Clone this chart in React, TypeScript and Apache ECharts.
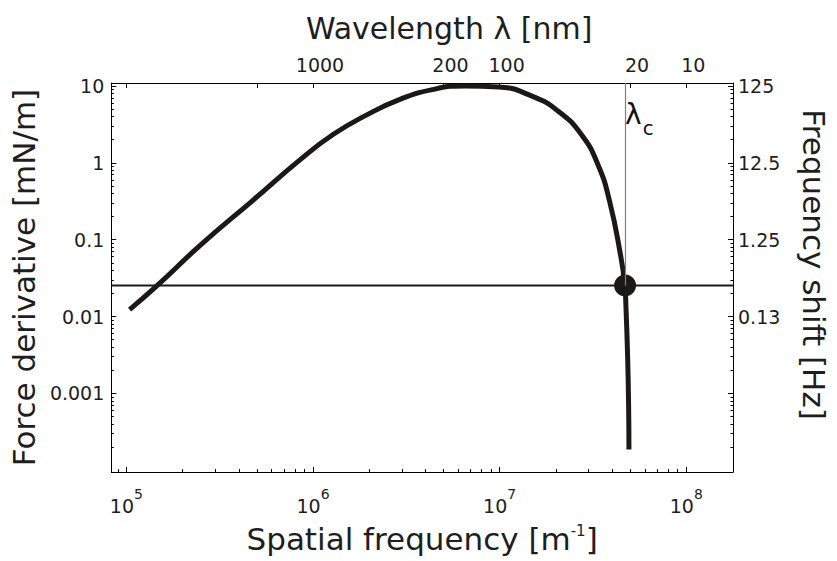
import React, { useEffect, useRef } from "react";
import * as echarts from "echarts";

// Spatial frequency k [1/m] and force derivative [mN/m]
const kValues = [
  1.04e5, 1.45e5, 2.51e5, 4.8e5, 8.54e5, 1.28e6, 1.93e6, 2.9e6, 4.36e6, 6.57e6,
  9.88e6, 1.49e7, 2.06e7, 2.74e7, 3.36e7, 3.88e7, 4.46e7, 4.68e7, 4.75e7, 4.85e7, 4.91e7, 4.93e7,
];
const forceValues = [
  0.0123, 0.0248, 0.0861, 0.33, 1.1, 2.33, 4.16, 6.64, 8.95, 10.0,
  9.7, 7.35, 4.69, 2.33, 0.951, 0.318, 0.0601, 0.0261, 0.0136, 0.00305, 0.000684, 0.000187,
];
const thresholdForce = 0.0253;
const criticalK = 4.7e7;
const lambdaLabelForce = 3.7;
const freqFactor = 12.5;

const xMajorTicks = [1e5, 1e6, 1e7, 1e8];
const leftTickValues = [0.001, 0.01, 0.1, 1, 10];
const leftTickLabels = ["0.001", "0.01", "0.1", "1", "10"];
const rightTickValues = [0.0125, 0.125, 1.25, 12.5, 125];
const rightTickLabels = ["", "0.13", "1.25", "12.5", "125"];
const topTickValues = [10000, 2000, 1000, 200, 100, 20, 10];
const topLabelValues = [1000, 200, 100, 20, 10];

const X_MIN = 8.3e4;
const X_MAX = 1.78e8;
const Y_MIN = 9.5e-5;
const Y_MAX = 10.9;

const FONT = "DejaVu Sans";
const TEXT = "#1e1e1e";
const INK = "#1c1815";

function minorTicks(min: number, max: number, scale = 1): number[] {
  const out: number[] = [];
  const lo = Math.floor(Math.log10(min / scale));
  const hi = Math.ceil(Math.log10(max / scale));
  for (let e = lo; e <= hi; e++) {
    for (let m = 2; m <= 9; m++) {
      const v = Number((m * Math.pow(10, e) * scale).toPrecision(6));
      if (v >= min && v <= max) out.push(v);
    }
  }
  return out;
}

function pick(values: number[], labels: string[], v: number): string {
  const i = values.findIndex((t) => Math.abs(Math.log10(t) - Math.log10(v)) < 0.01);
  return i >= 0 ? labels[i] : "";
}

export default function App() {
  const ref = useRef<HTMLDivElement>(null);

  useEffect(() => {
    if (!ref.current) return;
    const chart = echarts.init(ref.current, undefined, { renderer: "svg" });
    const curve = kValues.map((k, i) => [k, forceValues[i]]);
    const frame = { show: true, lineStyle: { color: "#000", width: 1 } };
    const tickLabelStyle = { fontFamily: FONT, fontSize: 19, color: TEXT };

    chart.setOption({
      animation: false,
      backgroundColor: "#fff",
      grid: { left: 110, right: 101, top: 83, bottom: 89, containLabel: false },
      xAxis: [
        {
          type: "log",
          min: X_MIN,
          max: X_MAX,
          position: "bottom",
          axisLine: frame,
          axisTick: { inside: true, length: 5, customValues: xMajorTicks, lineStyle: { color: "#000" } },
          axisLabel: {
            customValues: xMajorTicks,
            margin: 15,
            formatter: (v: number) => `{b|10}{s|${Math.round(Math.log10(v))}}`,
            rich: {
              b: { fontFamily: FONT, fontSize: 19, color: TEXT, lineHeight: 28, verticalAlign: "bottom" },
              s: { fontFamily: FONT, fontSize: 14, color: TEXT, lineHeight: 12, verticalAlign: "top" },
            },
          },
          splitLine: { show: false },
          name: "Spatial frequency [m{sup|-1}]",
          nameLocation: "middle",
          nameGap: 51,
          nameTextStyle: {
            fontFamily: FONT,
            fontSize: 31,
            color: TEXT,
            rich: {
              sup: { fontFamily: FONT, fontSize: 15, color: TEXT, lineHeight: 14, verticalAlign: "top" },
            },
          },
        },
        {
          type: "log",
          min: X_MIN,
          max: X_MAX,
          position: "bottom",
          axisLine: { show: false },
          axisTick: { inside: true, length: 3, customValues: minorTicks(X_MIN, X_MAX), lineStyle: { color: "#000" } },
          axisLabel: { show: false },
          splitLine: { show: false },
        },
        {
          type: "log",
          inverse: true,
          min: 1e9 / X_MAX,
          max: 1e9 / X_MIN,
          position: "top",
          axisLine: frame,
          axisTick: { inside: true, length: 5, customValues: topTickValues, lineStyle: { color: "#000" } },
          axisLabel: {
            ...tickLabelStyle,
            customValues: topLabelValues,
            margin: 9,
            padding: [0, 0, 0, 14],
            formatter: (v: number) => String(Math.round(v)),
          },
          splitLine: { show: false },
          name: "Wavelength λ [nm]",
          nameLocation: "middle",
          nameGap: 40,
          nameTextStyle: { fontFamily: FONT, fontSize: 30, color: TEXT, padding: [0, 0, 0, 54] },
        },
      ],
      yAxis: [
        {
          type: "log",
          min: Y_MIN,
          max: Y_MAX,
          position: "left",
          axisLine: frame,
          axisTick: { inside: true, length: 5, customValues: leftTickValues, lineStyle: { color: "#000" } },
          axisLabel: {
            ...tickLabelStyle,
            customValues: leftTickValues,
            margin: 7,
            formatter: (v: number) => pick(leftTickValues, leftTickLabels, v),
          },
          splitLine: { show: false },
          name: "Force derivative [mN/m]",
          nameLocation: "middle",
          nameGap: 62,
          nameTextStyle: { fontFamily: FONT, fontSize: 31, color: TEXT },
        },
        {
          type: "log",
          min: Y_MIN,
          max: Y_MAX,
          position: "left",
          axisLine: { show: false },
          axisTick: { inside: true, length: 2.5, customValues: minorTicks(Y_MIN, Y_MAX), lineStyle: { color: "#000" } },
          axisLabel: { show: false },
          splitLine: { show: false },
        },
        {
          type: "log",
          min: Y_MIN * freqFactor,
          max: Y_MAX * freqFactor,
          position: "right",
          axisLine: frame,
          axisTick: { inside: true, length: 5, customValues: rightTickValues, lineStyle: { color: "#000" } },
          axisLabel: {
            ...tickLabelStyle,
            customValues: rightTickValues.slice(1),
            margin: 5,
            formatter: (v: number) => pick(rightTickValues, rightTickLabels, v),
          },
          splitLine: { show: false },
          name: "Frequency shift [Hz]",
          nameLocation: "middle",
          nameRotate: -90,
          nameGap: 65,
          nameTextStyle: { fontFamily: FONT, fontSize: 31, color: TEXT, padding: [0, 26, 0, 0] },
        },
        {
          type: "log",
          min: Y_MIN * freqFactor,
          max: Y_MAX * freqFactor,
          position: "right",
          axisLine: { show: false },
          axisTick: {
            inside: true,
            length: 2.5,
            customValues: minorTicks(Y_MIN * freqFactor, Y_MAX * freqFactor, freqFactor),
            lineStyle: { color: "#000" },
          },
          axisLabel: { show: false },
          splitLine: { show: false },
        },
      ],
      series: [
        {
          type: "line",
          xAxisIndex: 0,
          yAxisIndex: 0,
          data: [
            [X_MIN, thresholdForce],
            [X_MAX, thresholdForce],
          ],
          z: 1,
          silent: true,
          showSymbol: false,
          lineStyle: { color: "#1a1a1a", width: 2 },
        },
        {
          type: "line",
          xAxisIndex: 0,
          yAxisIndex: 0,
          data: curve,
          z: 2,
          smooth: 0.5,
          showSymbol: false,
          lineStyle: { color: INK, width: 5 },
          silent: true,
        },
        {
          type: "scatter",
          xAxisIndex: 0,
          yAxisIndex: 0,
          z: 3,
          data: [[criticalK, thresholdForce]],
          symbolSize: 22,
          itemStyle: { color: INK, opacity: 1 },
          silent: true,
          markLine: {
            silent: true,
            symbol: ["none", "none"],
            label: { show: false },
            lineStyle: { color: "#808080", width: 1.2, type: "solid" },
            data: [[{ coord: [criticalK, Y_MAX] }, { coord: [criticalK, thresholdForce] }]],
          },
        },
        {
          type: "scatter",
          xAxisIndex: 0,
          yAxisIndex: 0,
          z: 3,
          data: [[criticalK, lambdaLabelForce]],
          symbolSize: 0,
          silent: true,
          itemStyle: { opacity: 1 },
          label: {
            show: true,
            position: "right",
            distance: 0,
            opacity: 1,
            formatter: "{l|λ}{c|c}{g| }",
            rich: {
              l: { fontFamily: FONT, fontSize: 28, color: "#111", lineHeight: 28, verticalAlign: "top" },
              c: { fontFamily: FONT, fontSize: 20, color: "#111", lineHeight: 20, verticalAlign: "bottom", padding: [0, 0, 0, 1] },
              g: { fontSize: 1, lineHeight: 38 },
            },
          },
        },
      ],
    });
    return () => chart.dispose();
  }, []);

  return (
    <div
      ref={ref}
      style={{ position: "fixed", left: 0, top: 0, width: 837, height: 561, background: "#fff" }}
    />
  );
}
